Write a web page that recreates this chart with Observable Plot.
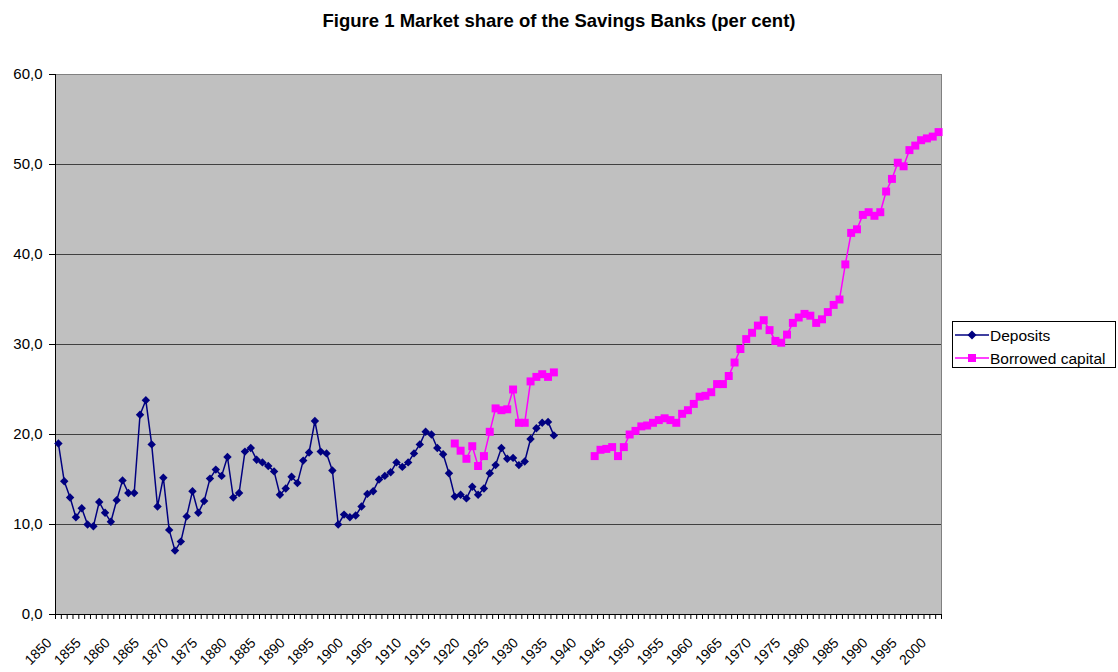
<!DOCTYPE html>
<html>
<head>
<meta charset="utf-8">
<script src="https://cdn.jsdelivr.net/npm/d3@7"></script>
<script src="https://cdn.jsdelivr.net/npm/@observablehq/plot@0.6"></script>
<style>
  body { margin: 0; background: #fff; font-family: "Liberation Sans", Arial, sans-serif; }
  #wrap { position: relative; width: 1118px; height: 672px; overflow: hidden; }
  #title { position: absolute; top: 10px; left: 0; width: 1118px; text-align: center; font-weight: bold; font-size: 18.5px; color: #000; }
  #chart { position: absolute; left: 0; top: 0; }
  #legend { position: absolute; left: 952px; top: 321px; }
</style>
</head>
<body>
<div id="wrap">
  <div id="chart"></div>
  <div id="title">Figure 1 Market share of the Savings Banks (per cent)</div>
  <svg id="legend" width="166" height="48" font-family="Liberation Sans, Arial, sans-serif" font-size="15.5">
    <rect x="0.5" y="0.5" width="163" height="46" fill="#fff" stroke="#000" stroke-width="1"></rect>
    <line x1="3" x2="37" y1="14" y2="14" stroke="#000080" stroke-width="1.5"></line>
    <path d="M20,9.5L24.5,14L20,18.5L15.5,14Z" fill="#000080"></path>
    <text x="38" y="19.5" fill="#000">Deposits</text>
    <line x1="3" x2="37" y1="37" y2="37" stroke="#FF00FF" stroke-width="1.5"></line>
    <rect x="16" y="33" width="8" height="8" fill="#FF00FF"></rect>
    <text x="38" y="42.5" fill="#000">Borrowed capital</text>
  </svg>
</div>
<script>
// ---- Data ----
const firstYear = 1850;
const lastYear = 2001;
const yTicks = [0, 10, 20, 30, 40, 50, 60];
const labelYears = [1850, 1855, 1860, 1865, 1870, 1875, 1880, 1885, 1890, 1895, 1900, 1905, 1910, 1915, 1920, 1925, 1930, 1935, 1940, 1945, 1950, 1955, 1960, 1965, 1970, 1975, 1980, 1985, 1990, 1995, 2000];

// Deposits, 1850–1935
const depositsStart = 1850;
const deposits = [
  19.0, 14.8, 13.0, 10.8, 11.8, 10.0, 9.8, 12.5, 11.3, 10.3,
  12.7, 14.9, 13.5, 13.5, 22.2, 23.8, 18.9, 12.0, 15.2, 9.4,
  7.1, 8.1, 10.9, 13.7, 11.3, 12.6, 15.1, 16.1, 15.4, 17.5,
  13.0, 13.5, 18.1, 18.5, 17.2, 16.9, 16.5, 15.9, 13.3, 14.0,
  15.3, 14.6, 17.1, 18.0, 21.5, 18.1, 17.9, 16.0, 10.0, 11.1,
  10.8, 11.0, 12.0, 13.4, 13.7, 15.0, 15.4, 15.8, 16.9, 16.4,
  16.9, 17.9, 18.9, 20.3, 20.0, 18.5, 17.8, 15.7, 13.1, 13.3,
  12.9, 14.2, 13.3, 14.0, 15.7, 16.6, 18.5, 17.3, 17.4, 16.6,
  17.0, 19.5, 20.7, 21.3, 21.4, 19.9
];

// Borrowed capital, 1918–2001 (no values 1936–1941)
const borrowedStart = 1918;
const borrowed = [
  19.0, 18.2, 17.3, 18.7, 16.5, 17.6, 20.3, 22.9, 22.7, 22.8,
  25.0, 21.3, 21.3, 25.9, 26.4, 26.7, 26.4, 26.9,
  null, null, null, null, null, null,
  17.6, 18.3, 18.4, 18.6, 17.6, 18.6, 20.0, 20.4, 20.9, 21.0,
  21.3, 21.6, 21.8, 21.6, 21.3, 22.3, 22.7, 23.4, 24.2, 24.3,
  24.7, 25.6, 25.6, 26.5, 28.0, 29.5, 30.6, 31.3, 32.1, 32.7,
  31.6, 30.4, 30.2, 31.1, 32.4, 33.0, 33.4, 33.2, 32.4, 32.8,
  33.6, 34.4, 35.0, 38.9, 42.4, 42.8, 44.4, 44.7, 44.3, 44.7,
  47.0, 48.4, 50.2, 49.8, 51.6, 52.1, 52.7, 52.9, 53.1, 53.6
];

// ---- Build tables ----
const depData = deposits.map((v, i) => ({year: depositsStart + i, value: v}));
const borData = borrowed.map((v, i) => ({year: borrowedStart + i, value: v}));
const borDots = borData.filter(d => d.value != null);
const categoryEdges = d3.range(firstYear - 0.5, lastYear + 1, 1);

const chart = Plot.plot({
  width: 1118,
  height: 672,
  marginTop: 74,
  marginLeft: 55,
  marginRight: 177,
  marginBottom: 58,
  style: {fontFamily: "Liberation Sans, Arial, sans-serif", fontSize: "15px", background: "transparent", color: "#000"},
  x: {domain: [firstYear - 0.5, lastYear + 0.5]},
  y: {domain: [0, 60]},
  marks: [
    Plot.frame({fill: "#C0C0C0", stroke: "#808080"}),
    Plot.ruleY(yTicks.filter(t => t > 0 && t < 60), {stroke: "#404040", strokeWidth: 1}),
    Plot.ruleX([firstYear - 0.5], {stroke: "#000", strokeWidth: 1}),
    Plot.ruleY([0], {stroke: "#000", strokeWidth: 1}),
    Plot.axisY({ticks: yTicks, tickSize: 6, tickPadding: 7, tickFormat: d => d.toFixed(1).replace(".", ","), label: null, fontSize: 15}),
    Plot.axisX({ticks: categoryEdges, tickSize: 5, tickFormat: () => "", label: null}),
    Plot.axisX({ticks: labelYears, tickSize: 0, tickPadding: 26, dx: -9, tickRotate: -45, tickFormat: d => String(d), label: null, fontSize: 14}),
    Plot.line(depData, {x: "year", y: "value", stroke: "#000080", strokeWidth: 1.5}),
    Plot.dot(depData, {x: "year", y: "value", symbol: "diamond2", r: 3.8, fill: "#000080", stroke: "none"}),
    Plot.line(borData, {x: "year", y: "value", stroke: "#FF00FF", strokeWidth: 1.5}),
    Plot.dot(borDots, {x: "year", y: "value", symbol: "square", r: 4.5, fill: "#FF00FF", stroke: "none"})
  ]
});
document.getElementById("chart").appendChild(chart);
</script>
</body>
</html>
